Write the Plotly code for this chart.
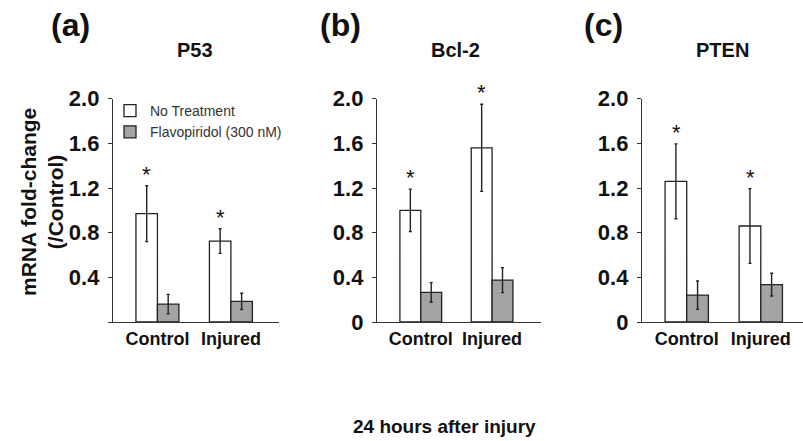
import plotly.graph_objects as go

categories = ["Control", "Injured"]
panels = ["P53", "Bcl-2", "PTEN"]
letters = ["(a)", "(b)", "(c)"]
series_names = ["No Treatment", "Flavopiridol (300 nM)"]

# mean values [panel][series][category]
no_treat = {
    "P53": [0.97, 0.725],
    "Bcl-2": [1.00, 1.56],
    "PTEN": [1.26, 0.86],
}
no_treat_err = {
    "P53": [0.25, 0.11],
    "Bcl-2": [0.19, 0.39],
    "PTEN": [0.335, 0.335],
}
flavo = {
    "P53": [0.16, 0.185],
    "Bcl-2": [0.265, 0.375],
    "PTEN": [0.24, 0.335],
}
flavo_err = {
    "P53": [0.087, 0.073],
    "Bcl-2": [0.088, 0.112],
    "PTEN": [0.127, 0.102],
}
# significance markers drawn on No Treatment bars
signif = {
    "P53": [True, True],
    "Bcl-2": [True, True],
    "PTEN": [True, True],
}

tick_vals = [0, 0.4, 0.8, 1.2, 1.6, 2.0]
tick_text_full = ["0", "0.4", "0.8", "1.2", "1.6", "2.0"]
tick_text_a = ["", "0.4", "0.8", "1.2", "1.6", "2.0"]

W, H = 803, 441
FONT = "Liberation Sans, Arial, sans-serif"
TXT = "#111111"

x_domains = [[113 / W, 279 / W], [377 / W, 541 / W], [642 / W, 1.0]]
x_ranges = [[-0.605, 1.655], [-0.614, 1.686], [-0.604, 1.57]]
y_domain = [1 - 322 / H, 1 - 98.7 / H]
title_x = [195, 455, 722]
letter_x = [70, 340, 603]

fig = go.Figure()
layout = dict(
    width=W, height=H,
    margin=dict(l=0, r=0, t=0, b=0, autoexpand=False),
    paper_bgcolor="white", plot_bgcolor="white",
    barmode="group", bargap=0.415, bargroupgap=0,
    font=dict(family=FONT, color=TXT),
    showlegend=True,
    legend=dict(
        x=110 / W, y=1 - 95 / H, xanchor="left", yanchor="top",
        font=dict(family=FONT, size=14, color="#333333"),
        bgcolor="rgba(0,0,0,0)", tracegroupgap=0, itemwidth=30,
    ),
)

annotations = []
for i, p in enumerate(panels):
    xa = "x" if i == 0 else f"x{i+1}"
    ya = "y" if i == 0 else f"y{i+1}"
    fig.add_trace(go.Bar(
        x=categories, y=no_treat[p], name=series_names[0],
        marker=dict(color="white", line=dict(color="#222222", width=1.3)),
        error_y=dict(type="data", array=no_treat_err[p], color="#222222", thickness=1.4, width=1.5),
        xaxis=xa, yaxis=ya, showlegend=(i == 0), legendgroup="nt",
    ))
    fig.add_trace(go.Bar(
        x=categories, y=flavo[p], name=series_names[1],
        marker=dict(color="#a3a3a3", line=dict(color="#222222", width=1.3)),
        error_y=dict(type="data", array=flavo_err[p], color="#222222", thickness=1.4, width=1.5),
        xaxis=xa, yaxis=ya, showlegend=(i == 0), legendgroup="fl",
    ))
    xkey = "xaxis" if i == 0 else f"xaxis{i+1}"
    ykey = "yaxis" if i == 0 else f"yaxis{i+1}"
    layout[xkey] = dict(
        domain=x_domains[i], anchor=ya, type="category", range=x_ranges[i],
        automargin=False,
        showline=True, linecolor="#333333", linewidth=1.3, ticks="",
        showgrid=False, zeroline=False,
        tickfont=dict(family=FONT, size=18, color=TXT, weight="bold"),
    )
    layout[ykey] = dict(
        domain=y_domain, anchor=xa, range=[0, 2.0], automargin=False,
        tickvals=tick_vals, ticktext=tick_text_a if i == 0 else tick_text_full,
        showline=True, linecolor="#333333", linewidth=1.3,
        ticks="outside", ticklen=4, tickcolor="#333333", tickwidth=1.2,
        ticklabelstandoff=4,
        showgrid=False, zeroline=False,
        tickfont=dict(family=FONT, size=22, color=TXT, weight="bold"),
    )
    annotations.append(dict(
        text=p, x=title_x[i] / W, y=1 - 50 / H, xref="paper", yref="paper",
        xanchor="center", yanchor="middle", showarrow=False,
        font=dict(family=FONT, size=20, color=TXT, weight="bold"),
    ))
    annotations.append(dict(
        text=letters[i], x=letter_x[i] / W, y=1 - 25 / H,
        xref="paper", yref="paper", xanchor="center", yanchor="middle",
        showarrow=False, font=dict(family=FONT, size=32, color=TXT, weight="bold"),
    ))
    for j, c in enumerate(categories):
        if signif[p][j]:
            annotations.append(dict(
                text="*", x=c, y=no_treat[p][j] + no_treat_err[p][j],
                xref=xa, yref=ya, xanchor="center", yanchor="bottom",
                xshift=-10.5, yshift=-3, showarrow=False,
                font=dict(family=FONT, size=22, color=TXT),
            ))

annotations.append(dict(
    text="mRNA fold-change<br>(/Control)", x=42 / W, y=1 - 202 / H,
    xref="paper", yref="paper", xanchor="center", yanchor="middle",
    textangle=-90, showarrow=False,
    font=dict(family=FONT, size=21, color=TXT, weight="bold"),
))
annotations.append(dict(
    text="24 hours after injury", x=444.5 / W, y=1 - 426 / H,
    xref="paper", yref="paper", xanchor="center", yanchor="middle",
    showarrow=False, font=dict(family=FONT, size=19, color=TXT, weight="bold"),
))
layout["annotations"] = annotations
fig.update_layout(**layout)
fig.write_html(
    "out.html",
    config={"displayModeBar": False},
    post_script="document.body.style.margin='0';document.body.style.overflow='hidden';",
)
